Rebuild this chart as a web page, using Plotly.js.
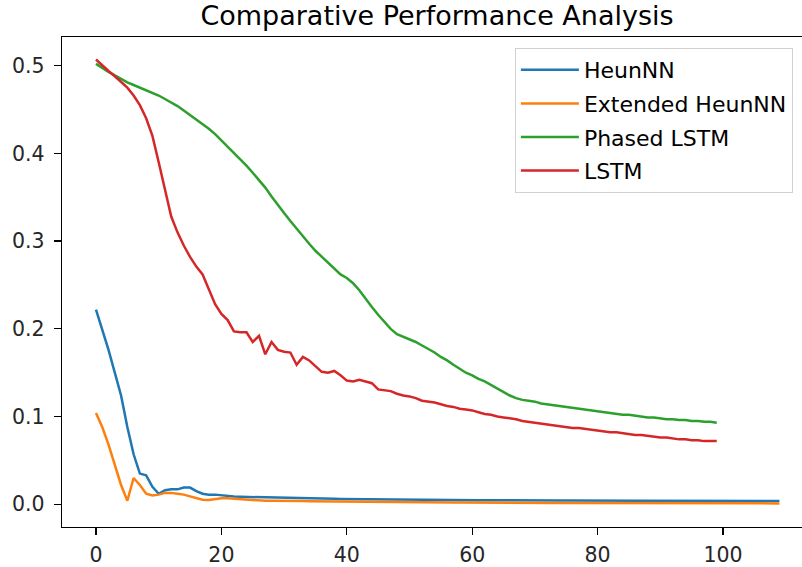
<!DOCTYPE html>
<html>
<head>
<meta charset="utf-8">
<script src="https://cdn.plot.ly/plotly-3.0.1.min.js"></script>
<style>html,body{margin:0;padding:0;background:#fff;}#chart{width:802px;height:567px;}</style>
</head>
<body>
<div id="chart"></div>
<script>
const seriesNames = ["HeunNN", "Extended HeunNN", "Phased LSTM", "LSTM"];
const seriesColors = ["#1f77b4", "#ff7f0e", "#2ca02c", "#d62728"];

const heunNN = [
  0.222,0.200,0.176,0.150,0.124,0.088,0.057,0.035,0.033,0.020,
  0.012,0.016,0.017,0.017,0.019,0.019,0.015,0.012,0.011,0.011,
  0.0100,0.0093,0.0088,0.0085,0.0083,0.0081,0.0079,0.0077,0.0075,0.0074,
  0.0076,0.0073,0.0071,0.0069,0.0067,0.0065,0.0064,0.0063,0.0062,0.0061,
  0.0060,0.0059,0.0058,0.0057,0.0056,0.0055,0.0054,0.0054,0.0053,0.0053,
  0.0052,0.0052,0.0051,0.0051,0.0050,0.0050,0.0049,0.0049,0.0048,0.0048,
  0.0048,0.0047,0.0047,0.0046,0.0046,0.0046,0.0045,0.0045,0.0045,0.0044,
  0.0044,0.0044,0.0043,0.0043,0.0043,0.0043,0.0042,0.0042,0.0042,0.0042,
  0.0041,0.0041,0.0041,0.0041,0.0040,0.0040,0.0040,0.0040,0.0040,0.0039,
  0.0039,0.0039,0.0039,0.0039,0.0038,0.0038,0.0038,0.0038,0.0038,0.0038,
  0.0037,0.0037,0.0037,0.0037,0.0037,0.0037,0.0036,0.0036,0.0036,0.0036
];
const extendedHeunNN = [
  0.104,0.088,0.068,0.045,0.022,0.004,0.030,0.022,0.012,0.010,
  0.011,0.013,0.013,0.012,0.011,0.009,0.007,0.0052,0.0048,0.0058,
  0.0068,0.0068,0.0063,0.0057,0.0050,0.0045,0.0042,0.0040,0.0040,0.0041,
  0.0042,0.0041,0.0039,0.0037,0.0035,0.0034,0.0033,0.0032,0.0031,0.0030,
  0.0029,0.0028,0.0028,0.0027,0.0026,0.0026,0.0025,0.0025,0.0024,0.0024,
  0.0023,0.0023,0.0022,0.0022,0.0021,0.0021,0.0021,0.0020,0.0020,0.0019,
  0.0019,0.0019,0.0018,0.0018,0.0018,0.0017,0.0017,0.0017,0.0016,0.0016,
  0.0016,0.0016,0.0015,0.0015,0.0015,0.0015,0.0014,0.0014,0.0014,0.0014,
  0.0014,0.0013,0.0013,0.0013,0.0013,0.0013,0.0012,0.0012,0.0012,0.0012,
  0.0012,0.0012,0.0011,0.0011,0.0011,0.0011,0.0011,0.0011,0.0011,0.0010,
  0.0010,0.0010,0.0010,0.0010,0.0010,0.0010,0.0010,0.0010,0.0010,0.0010
];
const phasedLSTM = [
  0.502,0.497,0.493,0.489,0.485,0.481,0.478,0.475,0.472,0.469,
  0.466,0.462,0.458,0.454,0.449,0.444,0.439,0.434,0.428,0.422,
  0.415,0.408,0.401,0.394,0.386,0.378,0.370,0.361,0.351,0.341,
  0.332,0.323,0.314,0.305,0.297,0.289,0.282,0.275,0.268,0.262,
  0.258,0.252,0.244,0.234,0.225,0.216,0.208,0.200,0.194,0.191,
  0.188,0.185,0.181,0.177,0.173,0.168,0.164,0.159,0.154,0.150,
  0.147,0.143,0.140,0.136,0.132,0.128,0.124,0.121,0.119,0.118,
  0.117,0.115,0.114,0.113,0.112,0.111,0.110,0.109,0.108,0.107,
  0.106,0.105,0.104,0.103,0.102,0.102,0.101,0.100,0.099,0.099,
  0.098,0.097,0.097,0.096,0.096,0.095,0.095,0.094,0.094,0.093
];
const lstm = [
  0.507,0.500,0.494,0.488,0.481,0.475,0.466,0.455,0.440,0.420,
  0.390,0.360,0.328,0.310,0.295,0.282,0.271,0.262,0.244,0.228,
  0.217,0.210,0.197,0.196,0.196,0.185,0.192,0.171,0.185,0.176,
  0.174,0.173,0.159,0.168,0.164,0.158,0.151,0.150,0.152,0.147,
  0.141,0.140,0.142,0.140,0.138,0.131,0.130,0.129,0.126,0.124,
  0.123,0.121,0.118,0.117,0.116,0.114,0.112,0.111,0.109,0.108,
  0.107,0.105,0.103,0.102,0.100,0.099,0.098,0.097,0.095,0.094,
  0.093,0.092,0.091,0.090,0.089,0.088,0.087,0.087,0.086,0.085,
  0.084,0.083,0.082,0.082,0.081,0.080,0.079,0.079,0.078,0.077,
  0.076,0.076,0.075,0.074,0.074,0.073,0.073,0.072,0.072,0.072
];
const xTickVals = [0, 20, 40, 60, 80, 100];
const yTickVals = [0.0, 0.1, 0.2, 0.3, 0.4, 0.5];

const allSeries = [heunNN, extendedHeunNN, phasedLSTM, lstm];
const traces = allSeries.map((ys, k) => ({
  type: "scatter",
  mode: "lines",
  name: seriesNames[k],
  legendgroup: "g" + k,
  x: ys.map((_, i) => i),
  y: ys,
  line: {color: seriesColors[k], width: 2.5}
}));

const axisCommon = {
  showgrid: false,
  zeroline: false,
  showline: true,
  linecolor: "#000",
  linewidth: 1.3,
  ticks: "outside",
  ticklen: 7,
  tickwidth: 1.3,
  tickcolor: "#000",
  tickfont: {family: "DejaVu Sans", size: 20.5, color: "#262626"}
};

const layout = {
  width: 802,
  height: 567,
  margin: {l: 62, r: 0, t: 37, b: 40},
  paper_bgcolor: "#fff",
  plot_bgcolor: "#fff",
  showlegend: true,
  title: {
    text: "Comparative Performance Analysis",
    font: {family: "DejaVu Sans", size: 27, color: "#000"},
    x: 437 / 802, xref: "container", xanchor: "center",
    y: 0.972, yref: "container", yanchor: "middle"
  },
  xaxis: Object.assign({}, axisCommon, {
    range: [-5.42, 112.6],
    tickvals: xTickVals,
    mirror: true,
    ticklabelstandoff: 2
  }),
  yaxis: Object.assign({}, axisCommon, {
    range: [-0.0259, 0.5327],
    tickvals: yTickVals,
    tickformat: ".1f",
    mirror: false,
    ticklabelstandoff: 5
  }),
  legend: {
    x: 0.612, xanchor: "left",
    y: 0.9776, yanchor: "top",
    bgcolor: "rgba(255,255,255,0.8)",
    bordercolor: "#d0d0d0",
    borderwidth: 1,
    font: {family: "DejaVu Sans", size: 22, color: "#000"},
    traceorder: "grouped",
    tracegroupgap: 2,
    itemwidth: 58
  }
};

Plotly.newPlot("chart", traces, layout, {displayModeBar: false, staticPlot: true});
</script>
</body>
</html>
